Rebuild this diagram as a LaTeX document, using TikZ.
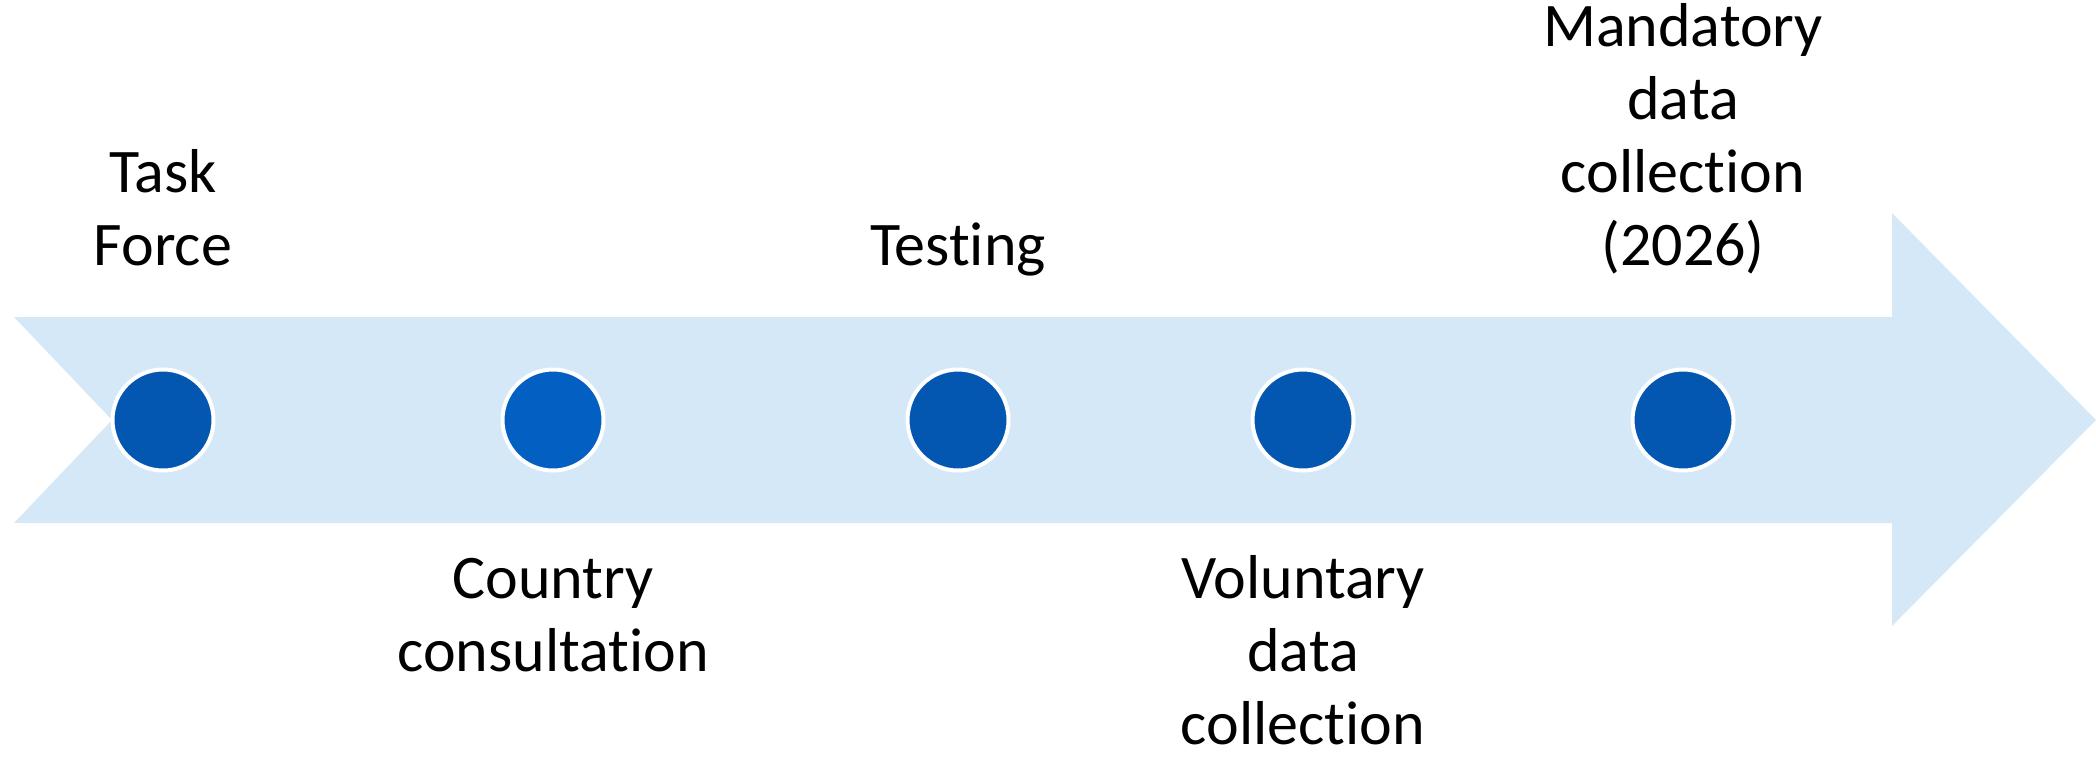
\documentclass[tikz,border=0pt]{standalone}
\usepackage{fontspec}
\setmainfont[Ligatures=NoCommon]{Carlito}
\definecolor{bandblue}{RGB}{213,232,247}
\definecolor{dotblue}{RGB}{4,87,177}
\definecolor{dotbright}{RGB}{3,95,193}
\begin{document}
\begin{tikzpicture}[x=0.5pt,y=-0.5pt,
  dot/.style={circle,draw=white,line width=2pt,fill=dotblue,inner sep=0pt,minimum size=50.5pt},
  stage/.style={align=center,anchor=south,inner sep=0pt,text depth=0pt,
    font=\fontsize{31}{36.5}\selectfont}]
  \useasboundingbox (0,0) rectangle (2096,756);
  % timeline band with notched tail and arrow head
  \fill[bandblue] (14,317) -- (1892,317) -- (1892,213) -- (2096,420)
    -- (1892,626) -- (1892,523) -- (14,523) -- (112,420) -- cycle;
  % milestones
  \node[dot] (m1) at (163,420) {};
  \node[dot,fill=dotbright] (m2) at (553,420) {};
  \node[dot] (m3) at (958,420) {};
  \node[dot] (m4) at (1303,420) {};
  \node[dot] (m5) at (1683,420) {};
  % labels above the band
  \node[stage] (l1) at (163,266) {Task\\Force};
  \node[stage] (l3) at (958,266) {Testing};
  \node[stage] (l5) at (1683,266) {Mandatory\\data\\collection\\(2026)};
  % labels below the band
  \node[stage] (l2) at (553,672) {Country\\consultation};
  \node[stage] (l4) at (1303,745) {Voluntary\\data\\collection};
\end{tikzpicture}
\end{document}
